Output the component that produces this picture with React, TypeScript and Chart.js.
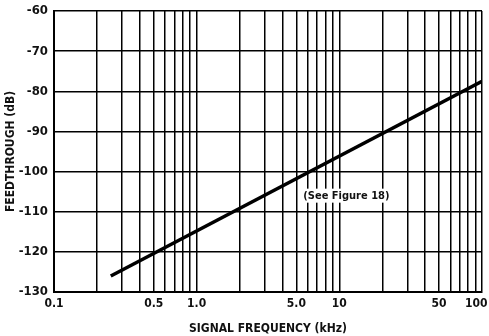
import React, { useEffect, useRef } from "react";
import { Chart, registerables } from "chart.js";

Chart.register(...registerables);

const frequencies = [0.25, 100];
const feedthrough = [-126, -77.5];
const xGrid = [
  0.1, 0.2, 0.3, 0.4, 0.5, 0.6, 0.7, 0.8, 0.9,
  1, 2, 3, 4, 5, 6, 7, 8, 9,
  10, 20, 30, 40, 50, 60, 70, 80, 90, 100,
];
const xLabelValues = [0.1, 0.5, 1, 5, 10, 50, 100];
const xLabelTexts = ["0.1", "0.5", "1.0", "5.0", "10", "50", "100"];
const yTicks = [-130, -120, -110, -100, -90, -80, -70, -60];
const note = { text: "(See Figure 18)", x: 11.2, y: -106 };

const FONT = "'DejaVu Sans Condensed', 'Liberation Sans', sans-serif";

export default function App() {
  const ref = useRef<HTMLCanvasElement>(null);
  useEffect(() => {
    document.body.style.margin = "0";
    const notePlugin = {
      id: "note",
      afterDatasetsDraw(chart: any) {
        const { ctx, scales } = chart;
        const px = scales.x.getPixelForValue(note.x);
        const py = scales.y.getPixelForValue(note.y);
        ctx.save();
        ctx.font = `bold 11px ${FONT}`;
        ctx.textAlign = "center";
        ctx.textBaseline = "middle";
        const w = ctx.measureText(note.text).width;
        ctx.fillStyle = "#fff";
        ctx.fillRect(px - w / 2 - 2, py - 7, w + 4, 14);
        ctx.fillStyle = "#111";
        ctx.fillText(note.text, px, py);
        ctx.restore();
      },
    };
    const chart = new Chart(ref.current!, {
      type: "line",
      data: {
        datasets: [
          {
            data: frequencies.map((f, i) => ({ x: f, y: feedthrough[i] })),
            borderColor: "#000",
            borderWidth: 3.5,
            pointRadius: 0,
            tension: 0,
          },
        ],
      },
      options: {
        animation: false,
        responsive: false,
        maintainAspectRatio: false,
        layout: { padding: { left: 0, right: 7, top: 11, bottom: 0 } },
        plugins: { legend: { display: false }, tooltip: { enabled: false } },
        scales: {
          x: {
            type: "logarithmic",
            min: 0.1,
            max: 100,
            afterBuildTicks(scale: any) {
              scale.ticks = xGrid.map((v) => ({ value: v }));
            },
            afterFit(scale: any) {
              scale.height = 44;
              scale.paddingLeft = 0;
              scale.paddingRight = 0;
            },
            grid: { color: "#000", lineWidth: 1.5, drawTicks: false },
            border: { color: "#000", width: 2 },
            ticks: {
              autoSkip: false,
              maxRotation: 0,
              padding: 5,
              color: "#111",
              font: { family: FONT, size: 12, weight: "bold" },
              callback(value: any) {
                const idx = xLabelValues.findIndex((v) => Math.abs(v - Number(value)) < 1e-9);
                if (idx < 0) return "";
                return idx === xLabelValues.length - 1 ? xLabelTexts[idx] + "   " : xLabelTexts[idx];
              },
            },
            title: {
              display: true,
              text: "SIGNAL FREQUENCY (kHz)",
              color: "#111",
              font: { family: FONT, size: 12, weight: "bold" },
              padding: { top: 4, bottom: 0 },
            },
          },
          y: {
            min: -130,
            max: -60,
            afterBuildTicks(scale: any) {
              scale.ticks = yTicks.map((v) => ({ value: v }));
            },
            afterFit(scale: any) {
              scale.width = 54;
              scale.paddingTop = 0;
              scale.paddingBottom = 0;
            },
            grid: { color: "#000", lineWidth: 1.5, drawTicks: false },
            border: { color: "#000", width: 2 },
            ticks: {
              padding: 6,
              color: "#111",
              font: { family: FONT, size: 13, weight: "bold" },
              callback(value: any) {
                return String(value);
              },
            },
            title: {
              display: true,
              text: "FEEDTHROUGH (dB)",
              color: "#111",
              font: { family: FONT, size: 12, weight: "bold" },
              padding: { top: 4, bottom: 0 },
            },
          },
        },
      },
      plugins: [notePlugin],
    });
    return () => chart.destroy();
  }, []);
  return (
    <div style={{ width: 489, height: 336 }}>
      <canvas ref={ref} width={489} height={336} style={{ display: "block" }} />
    </div>
  );
}
